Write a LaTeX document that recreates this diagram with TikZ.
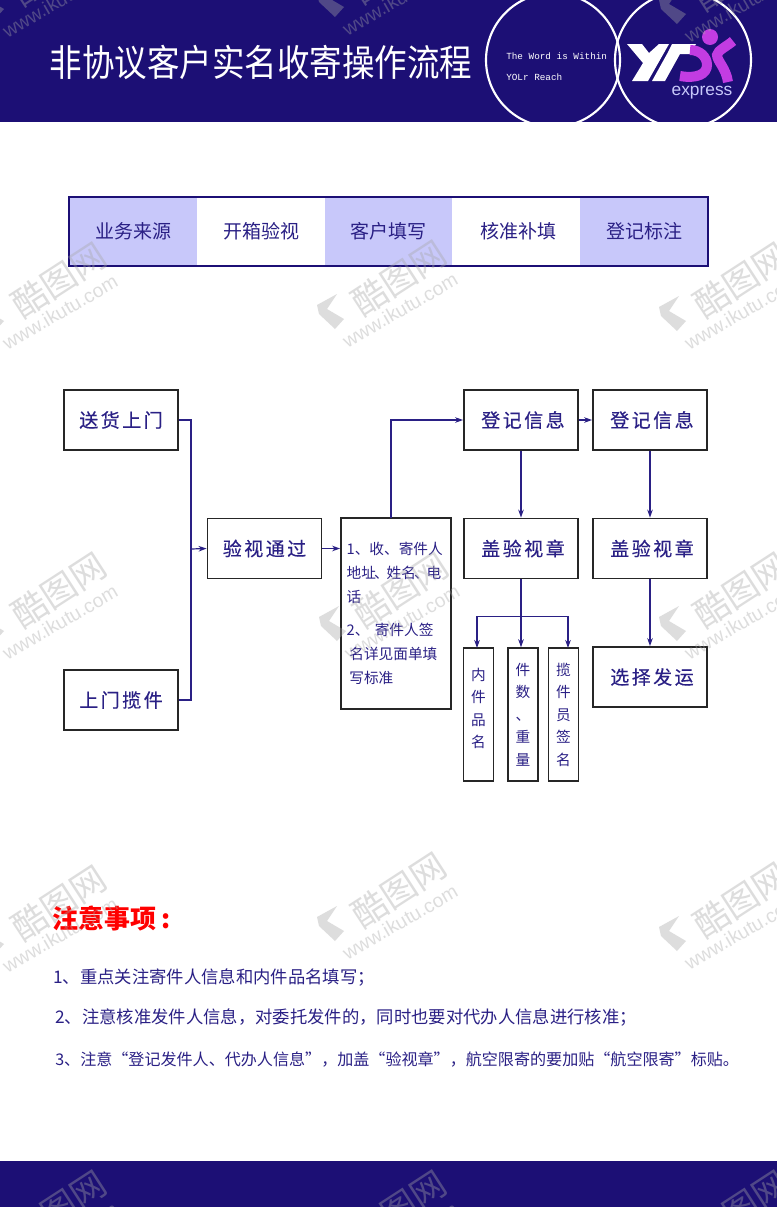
\documentclass[tikz,border=0pt]{standalone}
\usepackage{fontspec}
\usetikzlibrary{arrows.meta}
\setmainfont{Noto Sans CJK SC}
\newfontfamily\wideface[LetterSpace=13,FakeBold=0.4]{Noto Sans CJK SC}
\newfontfamily\monoface{Liberation Mono}
\newfontfamily\latinface{Liberation Sans}
\newcommand{\nudged}[1]{\hspace*{3pt}#1}
\definecolor{navy}{HTML}{1C0F75}
\definecolor{inkblue}{HTML}{2A2085}
\definecolor{lilac}{HTML}{C8C8FA}
\definecolor{logopurple}{HTML}{C23CE2}
\begin{document}
\begin{tikzpicture}[
        x=0.75pt, y=-0.75pt,
        cell/.style={rectangle, minimum width=95.85pt, minimum height=51pt, inner sep=0pt, text=inkblue, font=\fontsize{14.25}{16}\selectfont},
        tone/.style={cell, fill=lilac},
        stepbox/.style={rectangle, draw=black!85, line width=1.4pt, fill=white, minimum width=85.5pt, minimum height=45pt, inner sep=0pt, text=inkblue, font=\wideface\fontsize{14.25}{16}\selectfont},
        tallbox/.style={rectangle, draw=black!85, line width=1.4pt, fill=white, minimum width=22.5pt, minimum height=99.5pt, inner sep=0pt, align=center, text=inkblue, font=\fontsize{11}{16.9}\selectfont},
        notebox/.style={rectangle, draw=black!85, line width=1.4pt, fill=white, minimum width=82.5pt, minimum height=143.5pt, inner sep=0pt, text=inkblue, font=\fontsize{11}{18}\selectfont},
        notetext/.style={anchor=west, inner sep=0pt, text=inkblue, font=\fontsize{13}{15}\selectfont},
        flow/.style={draw=inkblue, line width=0.9pt, -{Stealth[length=6pt,width=4.2pt]}},
        wire/.style={draw=inkblue, line width=0.9pt},
        logostroke/.style={draw=logopurple, line width=7.5pt}
    ]
    \useasboundingbox (0,0) rectangle (777,1207);
    \fill[white] (0,0) rectangle (777,1207);

    \fill[navy] (0,0) rectangle (777,122);
    \fill[navy] (0,1161) rectangle (777,1207);
    \begin{scope}
        \clip (0,0) rectangle (777,122);
        \draw[white, line width=1.6pt] (553,60) circle [radius=67];
        \draw[white, line width=1.6pt] (683,60) circle [radius=68];
    \end{scope}
    \node[xscale=0.88, transform shape, inner sep=0pt, text=white, font=\fontsize{27.7}{30}\selectfont] (title) at (261,62) {非协议客户实名收寄操作流程};
    \node[anchor=west, inner sep=0pt, text=white, font=\monoface\fontsize{7}{9}\selectfont] (word1) at (506,56) {The Word is Within};
    \node[anchor=west, inner sep=0pt, text=white, font=\monoface\fontsize{7}{9}\selectfont] (word2) at (506,77) {YOLr Reach};

    \fill[white] (627,44) -- (642,44) -- (649,53) -- (659,44) -- (669,44) -- (648,81) -- (632,81) -- (643,63) -- cycle;
    \fill[white] (672,44) -- (696,44) -- (690,54) -- (680,54) -- (665,81) -- (652,81) -- (667,54) -- cycle;
    \draw[logostroke] (690,50) .. controls (700,50) and (707,57) .. (707,65) .. controls (707,74) and (697,79) .. (680,76);
    \draw[logostroke] (733,41) .. controls (726,47) and (718,50) .. (717,55) .. controls (717,61) and (726,68) .. (728,82);
    \fill[logopurple] (710,37) circle [radius=8];
    \node[inner sep=0pt, text=lilac, font=\latinface\fontsize{13}{15}\selectfont] (express) at (702,93) {express};

    \node[tone] (yuan) at (133,231.5) {业务来源};
    \node[cell] (kaixiang) at (261,231.5) {开箱验视};
    \node[tone] (tianxie) at (388.5,231.5) {客户填写};
    \node[cell] (hezhun) at (516,231.5) {\nudged{核准补填}};
    \node[tone] (biaozhu) at (644,231.5) {登记标注};
    \draw[navy, line width=1.5pt] (yuan.north west) rectangle (biaozhu.south east);

    \node[stepbox] (songhuo) at (121,420) {送货上门};
    \node[stepbox] (lanjian) at (121,700) {上门揽件};
    \node[stepbox] (yanshi) at (264.5,548.5) {验视通过};
    \node[notebox, align=left, text width=74pt] (guize) at (396,613.5) {1、收、寄件人\\地址\hspace{-1.5pt}、\hspace{-1.5pt}姓名\hspace{-1.5pt}、\hspace{-1.5pt}电\\话\\[7pt]2、\hspace{4pt}寄件人签\\\hspace*{2pt}名详见面单填\\\hspace*{2pt}写标准};
    \node[stepbox] (dengji) at (521,420) {\nudged{登记信息}};
    \node[stepbox] (dengjib) at (650,420) {\nudged{登记信息}};
    \node[stepbox] (gaizhang) at (521,548.5) {\nudged{盖验视章}};
    \node[stepbox] (gaizhangb) at (650,548.5) {\nudged{盖验视章}};
    \node[stepbox] (fayun) at (650,677) {\nudged{选择发运}};
    \node[tallbox] (pinming) at (478.5,714.5) {内\\件\\品\\名\\[-7pt]~};
    \node[tallbox] (shuliang) at (523,714.5) {件\\数\\、\\重\\量};
    \node[tallbox] (qianming) at (563.5,714.5) {揽\\件\\员\\签\\名};

    \coordinate (joint) at (191,549);
    \coordinate (riser) at (391,518);
    \coordinate (fork) at (521,616.5);
    \coordinate (forkleft) at (477,648);
    \coordinate (forkright) at (568,648);
    \draw[wire] (songhuo.east) -| (joint);
    \draw[wire] (lanjian.east) -| (joint);
    \draw[flow] (joint) -- (yanshi.west);
    \draw[flow] (yanshi.east) -- (yanshi.east -| guize.west);
    \draw[flow] (riser) |- (dengji.west);
    \draw[flow] (dengji.east) -- (dengjib.west);
    \draw[flow] (dengji.south) -- (gaizhang.north);
    \draw[flow] (dengjib.south) -- (gaizhangb.north);
    \draw[flow] (gaizhangb.south) -- (fayun.north);
    \draw[flow] (gaizhang.south) -- (gaizhang.south |- shuliang.north);
    \draw[flow] (fork) -| (forkleft);
    \draw[flow] (fork) -| (forkright);

    \node[anchor=west, inner sep=0pt, text=red, font=\bfseries\fontsize{19.5}{22}\selectfont] (zhuyi) at (52,918) {注意事项\hspace{4pt}:};
    \node[notetext] (noteone) at (53,978) {1、重点关注寄件人信息和内件品名填写；};
    \node[notetext] (notetwo) at (55,1018) {2、注意核准发件人信息，对委托发件的，同时也要对代办人信息进行核准；};
    \node[notetext, font=\fontsize{12.05}{15}\selectfont] (notethree) at (55,1059) {3、注意“登记发件人、代办人信息”，加盖“验视章”，航空限寄的要加贴“航空限寄”标贴。};

    \foreach \wx/\wy [count=\wi] in {60/0, 400/-2, 742/5, 60/312, 400/310, 742/312, 60/622, 402/622, 742/622, 60/935, 400/922, 742/932, 60/1240, 400/1240, 742/1240} {
        \begin{scope}[shift={(\wx,\wy)}, opacity=0.38]
            \node[rotate=30, inner sep=0pt, text=gray!70, font=\latinface\fontsize{14.5}{16}\selectfont] (site\wi) at (0,0) {www.ikutu.com};
            \node[rotate=33, inner sep=0pt, text=gray!70, font=\fontsize{26}{28}\selectfont] (mark\wi) at (-1,-32) {酷图网};
            \fill[gray!70] (-63,-16) -- (-73,-1) -- (-56,9) -- (-65,19) -- (-81,4) -- (-83,-5) -- cycle;
        \end{scope}
    }
\end{tikzpicture}
\end{document}
